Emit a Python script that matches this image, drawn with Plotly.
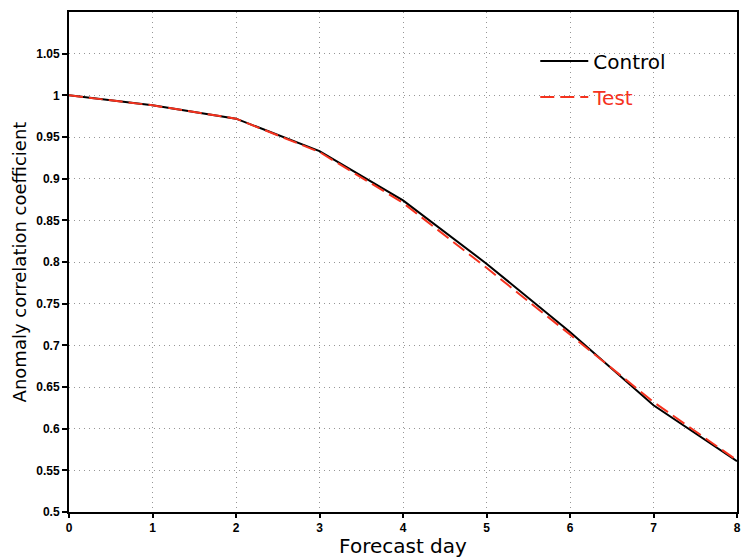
import plotly.graph_objects as go

days = [0, 1, 2, 3, 4, 5, 6, 7, 8]
control_acc = [1.000, 0.988, 0.972, 0.933, 0.874, 0.798, 0.716, 0.628, 0.561]
test_acc = [1.000, 0.988, 0.972, 0.932, 0.871, 0.793, 0.713, 0.632, 0.562]

y_tickvals = [0.5, 0.55, 0.6, 0.65, 0.7, 0.75, 0.8, 0.85, 0.9, 0.95, 1.0, 1.05]
y_ticktext = ["0.5", "0.55", "0.6", "0.65", "0.7", "0.75", "0.8", "0.85", "0.9", "0.95", "1", "1.05"]
x_tickvals = [0, 1, 2, 3, 4, 5, 6, 7, 8]
x_ticktext = ["0", "1", "2", "3", "4", "5", "6", "7", "8"]

RED = "rgb(245,50,30)"

fig = go.Figure()
fig.add_trace(go.Scatter(x=days, y=control_acc, mode="lines", name="Control",
                         legendgroup="c",
                         line=dict(color="black", width=2)))
fig.add_trace(go.Scatter(x=days, y=test_acc, mode="lines",
                         name="<span style='color:" + RED + "'>Test</span>",
                         legendgroup="t",
                         line=dict(color=RED, width=2, dash="14px,6px")))

tickfont = dict(family="Liberation Sans", size=12, color="black", weight="bold")
GRID = "rgb(150,150,150)"

fig.update_layout(
    width=742, height=558,
    margin=dict(l=69, r=5, t=12, b=46, autoexpand=False),
    plot_bgcolor="white", paper_bgcolor="white",
    showlegend=True,
    legend=dict(x=0.698, y=0.941, xanchor="left", yanchor="top",
                bgcolor="rgba(0,0,0,0)", font=dict(family="DejaVu Sans", size=20, color="black"),
                itemwidth=48, tracegroupgap=7),
    xaxis=dict(range=[0, 8], tickvals=x_tickvals, ticktext=x_ticktext, automargin=False,
               ticklabeloverflow="allow",
               showgrid=True, gridcolor=GRID, griddash="1px,4px", gridwidth=1,
               showline=True, linecolor="black", linewidth=2, mirror=True,
               ticks="outside", ticklen=4, tickwidth=1.5, tickcolor="black",
               tickfont=tickfont, zeroline=False,
               title=dict(text="Forecast day", font=dict(family="DejaVu Sans", size=20, color="black"), standoff=12)),
    yaxis=dict(range=[0.5, 1.1], tickvals=y_tickvals, ticktext=y_ticktext, automargin=False,
               showgrid=True, gridcolor=GRID, griddash="1px,4px", gridwidth=1,
               showline=True, linecolor="black", linewidth=2, mirror=True,
               ticks="outside", ticklen=5, tickwidth=1.5, tickcolor="black",
               tickfont=tickfont, zeroline=False,
               title=dict(text="Anomaly correlation coefficient",
                          font=dict(family="DejaVu Sans", size=18, color="black"), standoff=5)),
)

fig.write_html("out.html",
               config={"displayModeBar": False},
               post_script="document.body.style.margin='0';document.body.style.overflow='hidden';")
